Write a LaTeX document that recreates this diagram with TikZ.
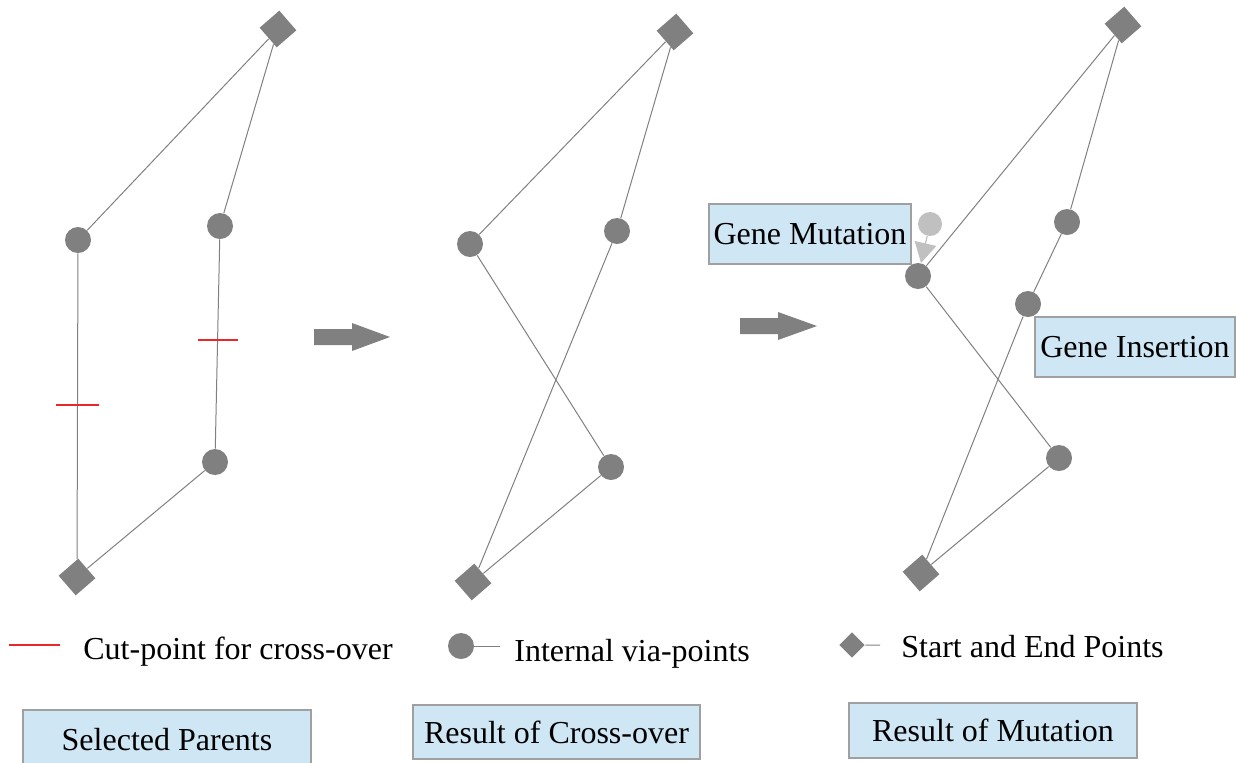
\documentclass[tikz,border=0pt]{standalone}
\usepackage{fontspec}
\setmainfont{Liberation Serif}
\usetikzlibrary{arrows.meta}
\definecolor{ptgray}{HTML}{808080}
\definecolor{lightpt}{HTML}{C0C0C0}
\definecolor{boxblue}{HTML}{CFE6F4}
\definecolor{boxedge}{HTML}{A0A0A0}
\definecolor{cutred}{HTML}{E8282A}
\begin{document}
\begin{tikzpicture}[x=0.5pt,y=-0.5pt,
  via/.style={circle,fill=ptgray,inner sep=0pt,minimum size=13pt},
  endpt/.style={rectangle,fill=ptgray,inner sep=0pt,minimum size=13pt,rotate=41},
  smallend/.style={rectangle,fill=ptgray,inner sep=0pt,minimum size=9pt,rotate=45},
  link/.style={draw=ptgray,line width=0.5pt},
  cutmark/.style={draw=cutred,line width=0.7pt},
  txt/.style={font=\fontsize{16}{19}\selectfont},
  lbl/.style={txt,draw=boxedge,fill=boxblue,line width=0.6pt,inner sep=0pt},
  legtxt/.style={txt,anchor=base west,inner sep=0pt},
  blockarrow/.style={fill=ptgray}
]
\useasboundingbox (0,0) rectangle (1238,762);

% ---------- Panel 1: Selected Parents ----------
\node[endpt] (p1s) at (278,29) {};
\node[endpt] (p1e) at (77,577) {};
\node[via] (a1) at (78,240) {};
\node[via] (a2) at (220,226) {};
\node[via] (a3) at (215,462) {};
\draw[link] (p1s) -- (a1) -- (p1e);
\draw[link] (p1s) -- (a2) -- (a3) -- (p1e);
\coordinate (c1l) at (56,405); \coordinate (c1r) at (99,405);
\coordinate (c2l) at (198,340); \coordinate (c2r) at (238,340);
\draw[cutmark] (c1l) -- (c1r);
\draw[cutmark] (c2l) -- (c2r);

% block arrow 1
\fill[blockarrow] (314,329) -- (352,329) -- (352,323) -- (390,337) -- (352,351) -- (352,345) -- (314,345) -- cycle;

% ---------- Panel 2: Result of Cross-over ----------
\node[endpt] (p2s) at (675,32) {};
\node[endpt] (p2e) at (473,582) {};
\node[via] (b1) at (470,244) {};
\node[via] (b2) at (617,231) {};
\node[via] (b3) at (611,467) {};
\draw[link] (p2s) -- (b1) -- (b3) -- (p2e);
\draw[link] (p2s) -- (b2) -- (p2e);

% block arrow 2
\fill[blockarrow] (740,318) -- (778,318) -- (778,312) -- (817,326) -- (778,340) -- (778,334) -- (740,334) -- cycle;

% ---------- Panel 3: Result of Mutation ----------
\node[endpt] (p3s) at (1123,25) {};
\node[endpt] (p3e) at (921,573) {};
\node[via] (m1) at (918,276) {};
\node[via] (m2) at (1067,222) {};
\node[via] (m3) at (1028,304) {};
\node[via] (m4) at (1059,458) {};
\draw[link] (p3s) -- (m1) -- (m4) -- (p3e);
\draw[link] (p3s) -- (m2) -- (m3) -- (p3e);
\node[circle,fill=lightpt,inner sep=0pt,minimum size=12pt] (mut) at (930,224) {};
\draw[draw=lightpt,line width=0.6pt,-{Triangle[length=10pt,width=11pt]}] (mut) -- (m1);

\node[lbl,minimum width=101pt,minimum height=30pt] (gm) at (810,234) {Gene Mutation};
\node[lbl,minimum width=100pt,minimum height=30pt] (gi) at (1135,347) {Gene Insertion};

% ---------- Legend ----------
\coordinate (lr1) at (9,645); \coordinate (lr2) at (60,645);
\draw[draw=cutred,line width=0.7pt] (lr1) -- (lr2);
\node[legtxt] (lt1) at (83,659) {Cut-point for cross-over};

\node[via] (lv) at (461,646) {};
\coordinate (lv2) at (500,646);
\draw[link] (lv) -- (lv2);
\node[legtxt] (lt2) at (514,661) {Internal via-points};

\node[smallend] (ld) at (852,645) {};
\coordinate (ld2) at (880,645);
\draw[link] (ld) -- (ld2);
\node[legtxt] (lt3) at (901,657) {Start and End Points};

% ---------- Panel captions ----------
\node[lbl,minimum width=144pt,minimum height=30pt] (cap1) at (167,740) {Selected Parents};
\node[lbl,minimum width=143.5pt,minimum height=27pt] (cap2) at (556.5,732) {Result of Cross-over};
\node[lbl,minimum width=144pt,minimum height=27.5pt] (cap3) at (993,730.5) {Result of Mutation};
\end{tikzpicture}
\end{document}
